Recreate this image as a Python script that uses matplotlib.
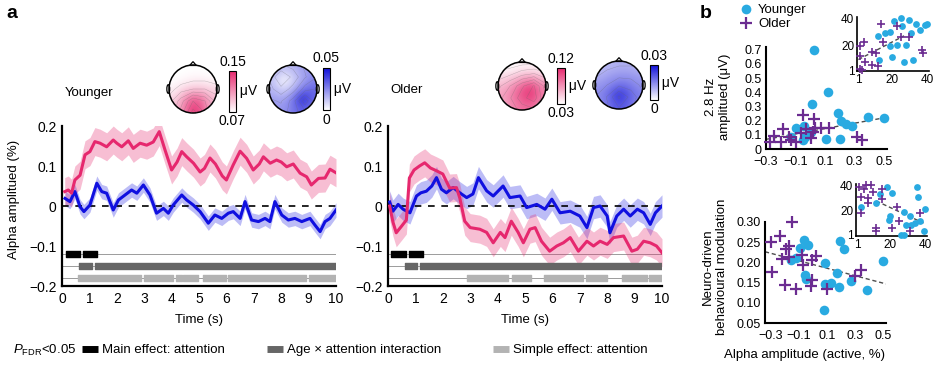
import numpy as np
import matplotlib.pyplot as plt
from matplotlib.colors import LinearSegmentedColormap, Normalize
from matplotlib.cm import ScalarMappable
from matplotlib.patches import Circle, Polygon, Ellipse
from matplotlib.lines import Line2D

plt.rcParams['font.family'] = ['Liberation Sans', 'DejaVu Sans']
plt.rcParams['mathtext.fontset'] = 'custom'
plt.rcParams['mathtext.rm'] = 'Liberation Sans'
plt.rcParams['mathtext.it'] = 'Liberation Sans:italic'
plt.rcParams['font.size'] = 9.5

PINK = '#e6286e'
BLUE = '#1010e0'
CYAN = '#29aae1'
PURPLE = '#6b2c91'

# ---------------- panel a data ----------------
young_pink_t = [0.1, 0.23, 0.35, 0.47, 0.66, 0.84, 1.02, 1.2, 1.39, 1.63, 1.87, 2.0, 2.18, 2.42, 2.6,
                2.85, 3.09, 3.33, 3.55, 3.76, 4.0, 4.2, 4.37, 4.55, 4.8, 5.04, 5.2, 5.4, 5.6, 5.85,
                6.0, 6.25, 6.5, 6.74, 6.98, 7.2, 7.35, 7.6, 7.83, 8.0, 8.2, 8.44, 8.69, 8.93, 9.1,
                9.36, 9.6, 9.78, 10.0]
young_pink_v = [0.036, 0.04, 0.032, 0.065, 0.077, 0.128, 0.136, 0.161, 0.157, 0.148, 0.165, 0.157, 0.148, 0.163, 0.144,
                0.157, 0.152, 0.16, 0.186, 0.14, 0.09, 0.11, 0.136, 0.123, 0.107, 0.085, 0.094, 0.12, 0.105, 0.075,
                0.065, 0.103, 0.137, 0.119, 0.09, 0.105, 0.123, 0.107, 0.115, 0.11, 0.098, 0.105, 0.082, 0.073, 0.0525,
                0.069, 0.07, 0.092, 0.083]
young_blue_t = [0.11, 0.29, 0.47, 0.66, 0.8, 1.02, 1.27, 1.45, 1.63, 1.87, 2.06, 2.3, 2.54, 2.73, 2.97,
                3.21, 3.45, 3.7, 3.88, 4.06, 4.37, 4.55, 4.79, 5.04, 5.34, 5.58, 5.83, 6.07, 6.25, 6.5,
                6.68, 6.92, 7.17, 7.41, 7.59, 7.77, 8.02, 8.26, 8.5, 8.75, 9.05, 9.23, 9.42, 9.6, 9.78, 10.0]
young_blue_v = [0.019, 0.011, 0.036, -0.002, -0.014, 0.0025, 0.057, 0.036, 0.032, -0.01, 0.015, 0.0275, 0.04, 0.032, 0.0525,
                0.0275, -0.018, -0.006, -0.018, 0.0025, 0.0275, 0.015, 0.0025, -0.014, -0.043, -0.0225, -0.031, -0.018, -0.014, -0.031,
                0.011, -0.035, -0.039, -0.031, -0.039, 0.011, -0.0225, -0.035, -0.031, -0.039, -0.031, -0.0475, -0.064, -0.039, -0.031, -0.01]
old_pink_t = [0.06, 0.18, 0.3, 0.5, 0.67, 0.78, 0.95, 1.15, 1.34, 1.55, 1.77, 2.0, 2.25, 2.5, 2.62,
              2.8, 3.0, 3.35, 3.6, 3.84, 4.1, 4.27, 4.5, 4.75, 4.94, 5.18, 5.37, 5.6, 5.9, 6.16,
              6.4, 6.65, 6.95, 7.26, 7.5, 7.74, 8.0, 8.23, 8.6, 8.9, 9.1, 9.33, 9.57, 9.8, 10.0]
old_pink_v = [0.0, -0.04, -0.067, -0.05, -0.035, 0.07, 0.09, 0.1, 0.108, 0.095, 0.088, 0.08, 0.045, 0.046, 0.02,
              -0.038, -0.054, -0.058, -0.066, -0.092, -0.066, -0.079, -0.038, -0.066, -0.092, -0.058, -0.054, -0.088, -0.113, -0.1,
              -0.092, -0.079, -0.113, -0.088, -0.1, -0.088, -0.096, -0.079, -0.075, -0.113, -0.108, -0.088, -0.092, -0.1, -0.117]
old_blue_t = [0.06, 0.18, 0.37, 0.55, 0.8, 1.04, 1.2, 1.4, 1.6, 1.77, 1.95, 2.13, 2.38, 2.62, 2.87,
              3.1, 3.3, 3.6, 3.84, 4.2, 4.45, 4.82, 5.06, 5.43, 5.73, 5.98, 6.28, 6.65, 7.0, 7.26,
              7.5, 7.74, 8.0, 8.1, 8.35, 8.6, 8.84, 9.1, 9.33, 9.57, 9.76, 10.0]
old_blue_v = [0.01, -0.013, 0.004, -0.008, -0.017, 0.025, 0.033, 0.037, 0.05, 0.071, 0.042, 0.033, 0.046, 0.033, 0.021,
              0.03, 0.071, 0.038, 0.025, 0.05, 0.021, 0.025, -0.004, 0.004, -0.008, 0.017, -0.017, -0.013, -0.025, -0.054,
              -0.004, 0.0, -0.025, -0.067, -0.025, -0.008, -0.025, -0.008, -0.017, -0.046, -0.017, 0.0]
young_pink_sem, young_blue_sem = 0.035, 0.018
old_pink_sem, old_blue_sem = 0.035, 0.028

# significance segments (start, end) in seconds
young_main = [(0.15, 0.66), (0.76, 1.29)]
young_inter = [(0.62, 1.08), (1.2, 10.0)]
young_simple = [(0.57, 2.9), (3.0, 4.06), (4.15, 4.37), (4.4, 4.95), (5.16, 5.99), (6.07, 8.9), (9.03, 10.0)]
old_main = [(0.12, 0.65), (0.75, 1.28)]
old_inter = [(0.61, 1.06), (1.18, 10.0)]
old_simple = [(2.89, 4.37), (4.51, 5.21), (5.71, 7.1), (7.23, 8.01), (8.54, 9.45), (9.51, 10.0)]
sig_levels = [-0.12, -0.15, -0.18]
sig_colors = ['black', '#666666', '#b3b3b3']
sig_names = ['Main effect: attention', 'Age \u00d7 attention interaction', 'Simple effect: attention']

a_yticks = [-0.2, -0.1, 0, 0.1, 0.2]
a_yticklabels = ['\u22120.2', '\u22120.1', '0', '0.1', '0.2']
a_xticks = [0, 1, 2, 3, 4, 5, 6, 7, 8, 9, 10]

# topographies (rows: front -> back), in µV
topo_young_pink = [[0.07, 0.07, 0.07, 0.07, 0.07],
                   [0.07, 0.072, 0.075, 0.075, 0.072],
                   [0.075, 0.085, 0.09, 0.09, 0.085],
                   [0.085, 0.105, 0.13, 0.12, 0.095],
                   [0.09, 0.115, 0.145, 0.13, 0.095]]
topo_young_blue = [[0.018, 0.012, 0.015, 0.02, 0.022],
                   [0.012, 0.0, 0.008, 0.018, 0.025],
                   [0.015, 0.008, 0.015, 0.028, 0.032],
                   [0.02, 0.018, 0.028, 0.048, 0.032],
                   [0.022, 0.022, 0.028, 0.035, 0.028]]
topo_old_pink = [[0.03, 0.032, 0.035, 0.035, 0.032],
                 [0.045, 0.05, 0.06, 0.065, 0.055],
                 [0.06, 0.075, 0.095, 0.11, 0.08],
                 [0.07, 0.085, 0.105, 0.115, 0.085],
                 [0.065, 0.08, 0.09, 0.095, 0.075]]
topo_old_blue = [[0.008, 0.009, 0.01, 0.01, 0.009],
                 [0.01, 0.012, 0.013, 0.013, 0.012],
                 [0.013, 0.015, 0.018, 0.017, 0.014],
                 [0.015, 0.019, 0.027, 0.021, 0.016],
                 [0.014, 0.018, 0.022, 0.019, 0.015]]
topo_ranges = {'yp': (0.07, 0.15), 'yb': (0.0, 0.05), 'op': (0.03, 0.12), 'ob': (0.0, 0.03)}
topo_labels = {'yp': ('0.15', '0.07'), 'yb': ('0.05', '0'), 'op': ('0.12', '0.03'), 'ob': ('0.03', '0')}

# ---------------- panel b data ----------------
top_young_x = [0.027, 0.117, 0.015, 0.19, 0.207, 0.24, 0.28, 0.39, 0.50, -0.10, -0.04, -0.034, 0.004, 0.106, 0.20, -0.13, -0.05]
top_young_y = [0.70, 0.40, 0.316, 0.252, 0.20, 0.177, 0.163, 0.229, 0.217, 0.146, 0.163, 0.087, 0.123, 0.068, 0.07, 0.087, 0.064]
top_old_x = [-0.052, 0.022, -0.187, -0.244, -0.27, -0.2, -0.147, -0.13, -0.10, -0.063, -0.03, 0.016, 0.03, 0.072, 0.128, 0.004, 0.32, 0.353]
top_old_y = [0.24, 0.212, 0.139, 0.092, 0.052, 0.052, 0.087, 0.064, 0.052, 0.111, 0.139, 0.123, 0.146, 0.146, 0.146, 0.075, 0.087, 0.064]
top_fit = (0.19, 0.125)          # slope, intercept
top_fit_range = [-0.3, 0.5]

top_rank_young_x = [21, 25, 30, 16, 19, 12, 26, 34, 36, 39, 31, 19, 23, 28, 13, 20, 27, 32, 40]
top_rank_young_y = [38, 40, 39, 29, 30, 27, 34, 36, 31, 35, 29, 19, 20, 20, 9, 11, 7, 9, 36]
top_rank_old_x = [14, 4, 2, 9, 15, 23, 25, 30, 5, 9, 12, 2, 3, 37, 38, 11, 2]
top_rank_old_y = [36, 22, 19, 15, 22, 34, 26, 26, 7, 5, 4, 2, 1, 16, 14, 14, 12]
top_rank_fit = (0.685, 8.4)
top_rank_fit_range = [1, 27]

bot_young_x = [-0.063, -0.035, -0.092, 0.19, 0.22, 0.09, 0.173, -0.056, -0.047, 0.09, 0.126, 0.185, 0.268, 0.386, 0.5, 0.079, -0.158, -0.12]
bot_young_y = [0.255, 0.242, 0.236, 0.252, 0.232, 0.199, 0.175, 0.17, 0.16, 0.147, 0.149, 0.139, 0.153, 0.131, 0.203, 0.083, 0.207, 0.211]
bot_old_x = [-0.146, -0.3, -0.23, -0.19, -0.17, -0.22, -0.17, -0.29, -0.2, -0.12, -0.075, -0.07, -0.004, 0.02, -0.004, -0.011, 0.102, 0.30, 0.34]
bot_old_y = [0.299, 0.25, 0.265, 0.233, 0.24, 0.208, 0.213, 0.176, 0.143, 0.135, 0.219, 0.193, 0.207, 0.217, 0.157, 0.141, 0.134, 0.166, 0.182]
bot_fit = (-0.0926, 0.1949)
bot_fit_range = [-0.34, 0.52]

bot_rank_young_x = [18, 35, 14, 21, 36, 3, 12, 20, 19, 28, 31, 34, 37, 40, 29, 32, 39, 26, 28]
bot_rank_young_y = [39, 39, 33, 34, 31, 23, 26, 16, 13, 19, 16, 10, 12, 21, 9, 9, 4, 1, 1]
bot_rank_old_x = [2, 6, 9, 5, 10, 15, 3, 7, 15, 3, 7, 12, 12, 21, 24, 25, 31, 37]
bot_rank_old_y = [39, 40, 40, 37, 35, 37, 31, 30, 29, 18, 26, 6, 4, 6, 23, 12, 4, 18]
bot_rank_fit = (-0.643, 35.3)
bot_rank_fit_range = [12, 39]

b_xticks = [-0.3, -0.1, 0.1, 0.3, 0.5]
b_xticklabels = ['\u22120.3', '\u22120.1', '0.1', '0.3', '0.5']
b_top_yticks = [0, 0.1, 0.2, 0.3, 0.4, 0.5, 0.6, 0.7]
b_top_yticklabels = ['0', '0.1', '0.2', '0.3', '0.4', '0.5', '0.6', '0.7']
b_bot_yticks = [0.05, 0.10, 0.15, 0.20, 0.25, 0.30]
b_bot_yticklabels = ['0.05', '0.10', '0.15', '0.20', '0.25', '0.30']
rank_ticks = [1, 20, 40]

# ---------------- figure ----------------
W, H = 937, 366
fig = plt.figure(figsize=(W / 100, H / 100), dpi=100)


def px_rect(x0, y0, w, h):
    return [x0 / W, 1 - (y0 + h) / H, w / W, h / H]


def style(ax, lw=1.6, size=9.5):
    for s in ['top', 'right']:
        ax.spines[s].set_visible(False)
    for s in ['left', 'bottom']:
        ax.spines[s].set_linewidth(lw)
    ax.tick_params(length=0, pad=4, labelsize=size)
    ax.set_facecolor('none')


def trace_panel(rect, pink, blue, rows):
    ax = fig.add_axes(px_rect(*rect))
    for (t, v, sem, c, a) in [(blue[0], blue[1], blue[2], BLUE, 0.28), (pink[0], pink[1], pink[2], PINK, 0.3)]:
        t = np.array(t)
        v = np.array(v)
        ax.fill_between(t, v - sem, v + sem, color=c, alpha=a, lw=0, zorder=2)
    ax.axhline(0, color='black', lw=1.2, ls=(0, (4, 4)), zorder=3)
    ax.plot(blue[0], blue[1], color=BLUE, lw=2.2, zorder=4)
    ax.plot(pink[0], pink[1], color=PINK, lw=2.2, zorder=5)
    for y, segs, c in zip(sig_levels, rows, sig_colors):
        ax.axhline(y, color='0.55', lw=0.6, zorder=1)
        ax.broken_barh([(s, e - s) for s, e in segs], (y - 0.0068, 0.0136), color=c, zorder=6)
    ax.set_xlim(0, 10)
    ax.set_ylim(-0.2, 0.2)
    ax.set_xticks(a_xticks)
    ax.set_yticks(a_yticks)
    ax.set_yticklabels(a_yticklabels)
    ax.set_xlabel('Time (s)', labelpad=6)
    style(ax, size=10)
    return ax


trace_panel((62, 126, 274, 160),
            (young_pink_t, young_pink_v, young_pink_sem),
            (young_blue_t, young_blue_v, young_blue_sem),
            [young_main, young_inter, young_simple])
trace_panel((388, 126, 274, 160),
            (old_pink_t, old_pink_v, old_pink_sem),
            (old_blue_t, old_blue_v, old_blue_sem),
            [old_main, old_inter, old_simple])

fig.text(14 / W, 1 - 199 / H, 'Alpha amplitued (%)', rotation=90, ha='center', va='center')
fig.text(65 / W, 1 - 93 / H, 'Younger', va='center')
fig.text(390 / W, 1 - 90 / H, 'Older', va='center')
fig.text(6 / W, 1 - 13 / H, 'a', fontsize=14, fontweight='bold', va='center')
fig.text(700 / W, 1 - 13 / H, 'b', fontsize=14, fontweight='bold', va='center')

# legend of significance bars, one entry per key position
fig.text(13 / W, 1 - 350 / H, r'$\it{P}_{\rm FDR}$<0.05', va='center')
for x0, c, name in zip([82, 267, 493], sig_colors, sig_names):
    h = Line2D([], [], color=c, lw=5, solid_capstyle='butt')
    fig.legend([h], [name], loc='center left', bbox_to_anchor=(x0 / W, 1 - 350 / H),
               frameon=False, handlelength=1.2, handletextpad=0.3,
               borderpad=0, borderaxespad=0, fontsize=9.5)

# topographies
pink_cmap = LinearSegmentedColormap.from_list('pk', ['white', PINK])
blue_cmap = LinearSegmentedColormap.from_list('bl', ['white', '#1010d8'])
R = 24


def topo(cx, cy, grid, cmap, key, cbar):
    vmin, vmax = topo_ranges[key]
    ax = fig.add_axes(px_rect(cx - 1.35 * R, cy - 1.45 * R, 2.7 * R, 2.7 * R))
    ax.set_xlim(-1.35, 1.35)
    ax.set_ylim(-1.25, 1.45)
    ax.axis('off')
    g = np.array(grid)
    head = Circle((0, 0), 1, transform=ax.transData)
    im = ax.imshow(g, extent=(-1, 1, -1, 1), cmap=cmap, vmin=vmin, vmax=vmax,
                   interpolation='bicubic', origin='upper')
    im.set_clip_path(head)
    xs = np.linspace(-1, 1, g.shape[0])
    cs = ax.contour(xs, xs, g[::-1], levels=np.linspace(vmin, vmax, 9), colors='0.4',
                    linewidths=0.3, alpha=0.45)
    cs.set_clip_path(head)
    ax.add_patch(Polygon([(-0.14, 0.98), (0, 1.14), (0.14, 0.98)], closed=True, fc='white', ec='k', lw=0.9))
    for sx in (-1, 1):
        ax.add_patch(Ellipse((sx * 1.03, 0), 0.12, 0.36, fc='white', ec='k', lw=0.9))
    ax.add_patch(Circle((0, 0), 1, fill=False, ec='k', lw=1.1))
    cax = fig.add_axes(px_rect(*cbar))
    cb = fig.colorbar(ScalarMappable(Normalize(vmin, vmax), cmap), cax=cax)
    cb.set_ticks([])
    cb.outline.set_linewidth(0.8)
    hi, lo = topo_labels[key]
    cax.text(0.5, 1.06, hi, transform=cax.transAxes, ha='center', va='bottom', fontsize=10)
    cax.text(0.5, -0.06, lo, transform=cax.transAxes, ha='center', va='top', fontsize=10)
    cax.text(1.0, 0.5, ' \u03bcV', transform=cax.transAxes, ha='left', va='center', fontsize=10)


topo(193, 89, topo_young_pink, pink_cmap, 'yp', (229, 71, 7, 41))
topo(293, 89, topo_young_blue, blue_cmap, 'yb', (323, 68, 7, 42))
topo(522, 86, topo_old_pink, pink_cmap, 'op', (557, 68, 8, 36))
topo(619, 85, topo_old_blue, blue_cmap, 'ob', (650, 65, 8, 35))


# ---------------- panel b ----------------
def scatter_panel(rect, yx, yy, ox, oy, fit, frange, xlim, ylim, big=True):
    ax = fig.add_axes(px_rect(*rect))
    s_c, s_p, lw_p = (48, 70, 1.6) if big else (24, 36, 1.2)
    fx = np.array(frange)
    ax.plot(fx, fit[0] * fx + fit[1], color='0.3', lw=1.0, ls=(0, (3, 2)), zorder=2)
    ax.scatter(yx, yy, s=s_c, color=CYAN, lw=0, zorder=3, clip_on=False)
    ax.scatter(ox, oy, s=s_p, marker='+', color=PURPLE, linewidths=lw_p, zorder=4, clip_on=False)
    ax.set_xlim(*xlim)
    ax.set_ylim(*ylim)
    style(ax, lw=1.5 if big else 1.2, size=9 if big else 8.5)
    ax.tick_params(axis='x', pad=5 if big else 2)
    ax.tick_params(axis='y', pad=3 if big else 2)
    return ax


ax = scatter_panel((766, 47, 121, 102), top_young_x, top_young_y, top_old_x, top_old_y,
                   top_fit, top_fit_range, (-0.3, 0.52), (0, 0.72))
ax.set_xticks(b_xticks)
ax.set_xticklabels(b_xticklabels)
ax.set_yticks(b_top_yticks)
ax.set_yticklabels(b_top_yticklabels)

ax = scatter_panel((765, 222, 121, 101), bot_young_x, bot_young_y, bot_old_x, bot_old_y,
                   bot_fit, bot_fit_range, (-0.34, 0.52), (0.05, 0.30))
ax.set_xticks(b_xticks)
ax.set_xticklabels(b_xticklabels)
ax.set_yticks(b_bot_yticks)
ax.set_yticklabels(b_bot_yticklabels)

for rect, yx, yy, ox, oy, fit, fr, xl, yl in [
        ((857, 17, 72, 54), top_rank_young_x, top_rank_young_y, top_rank_old_x, top_rank_old_y,
         top_rank_fit, top_rank_fit_range, (0.2, 41.2), (0.5, 41)),
        ((856, 184, 71, 52), bot_rank_young_x, bot_rank_young_y, bot_rank_old_x, bot_rank_old_y,
         bot_rank_fit, bot_rank_fit_range, (0.4, 41), (0, 41))]:
    ax = scatter_panel(rect, yx, yy, ox, oy, fit, fr, xl, yl, big=False)
    ax.set_xticks(rank_ticks)
    ax.set_yticks(rank_ticks)
    ax.set_zorder(5)

fig.text(718 / W, 1 - 97 / H, '2.8 Hz\namplitued (\u03bcV)', rotation=90, ha='center', va='center',
         multialignment='center')
fig.text(715 / W, 1 - 267 / H, 'Neuro-driven\nbehavioural modulation', rotation=90, ha='center',
         va='center', multialignment='center')
fig.text(805 / W, 1 - 355 / H, 'Alpha amplitude (active, %)', ha='center', va='center')

bh = [Line2D([], [], ls='none', marker='o', ms=7, color=CYAN, mec='none'),
      Line2D([], [], ls='none', marker='+', ms=9, mew=1.6, color=PURPLE)]
fig.legend(bh, ['Younger', 'Older'], loc='upper left', bbox_to_anchor=(741 / W, 1 - 4 / H),
           frameon=False, handlelength=0.8, handletextpad=0.5, labelspacing=0.15,
           borderpad=0, borderaxespad=0, fontsize=9.5)

fig.savefig('out.png', dpi=100)
